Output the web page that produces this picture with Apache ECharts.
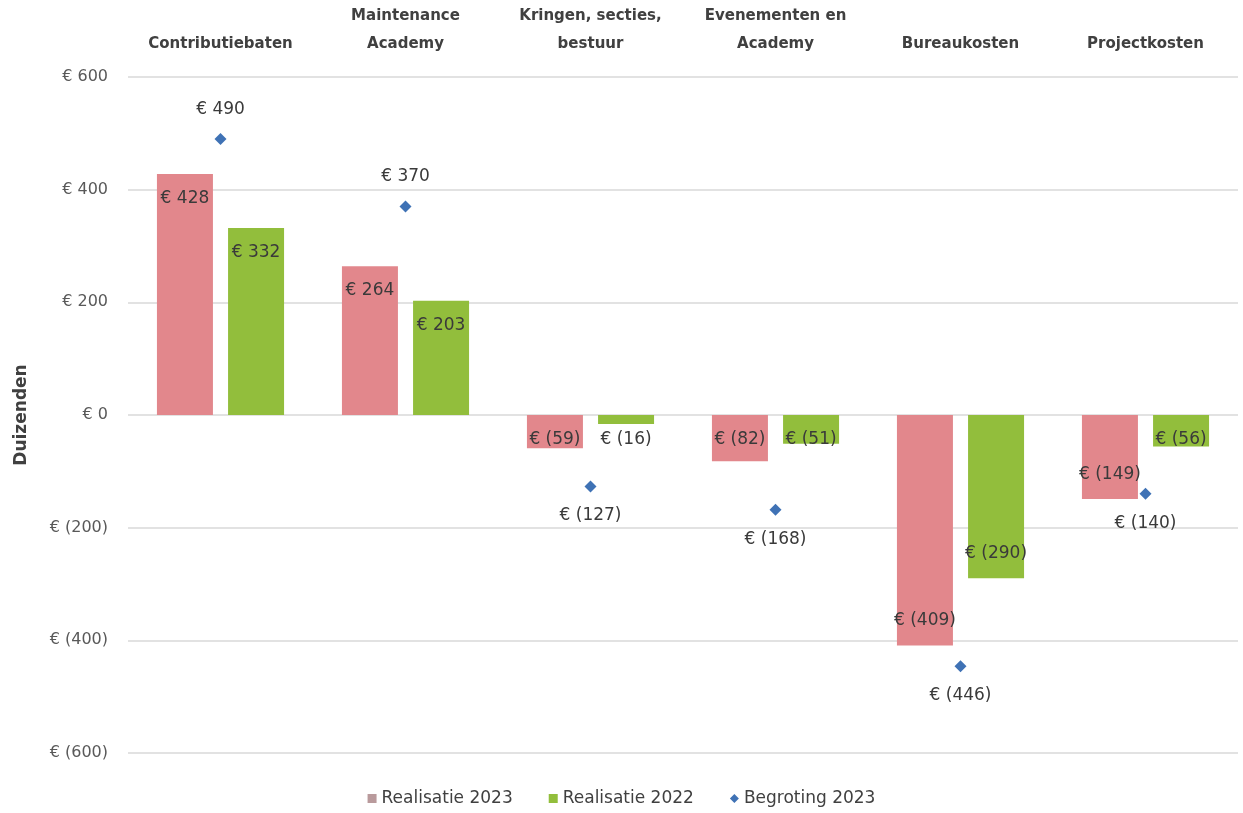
<!DOCTYPE html>
<html>
<head>
<meta charset="utf-8">
<script src="https://cdn.jsdelivr.net/npm/echarts@6/dist/echarts.min.js"></script>
<style>
  html, body { margin: 0; padding: 0; background: #fff; }
  #chart { width: 1243px; height: 813px; }
</style>
</head>
<body>
<div id="chart"></div>
<script>
// categories (shown along the top)
const categories = [
  'Contributiebaten',
  'Maintenance\nAcademy',
  'Kringen, secties,\nbestuur',
  'Evenementen en\nAcademy',
  'Bureaukosten',
  'Projectkosten'
];
const realisatie2023 = [428, 264, -59, -82, -409, -149];
const realisatie2022 = [332, 203, -16, -51, -290, -56];
const begroting2023 = [490, 370, -127, -168, -446, -140];

const euro = v => v < 0 ? '€ (' + Math.abs(v) + ')' : '€ ' + v;

const labelFont = { color: '#3a3a3a', fontSize: 17, fontFamily: 'DejaVu Sans' };

// Excel style "inside end" labels; short negative bars keep the label below the zero line
function barData(values) {
  return values.map(v => {
    let pos;
    if (v >= 0) pos = 'insideTop';
    else if (v < -95) pos = 'insideBottom';
    else pos = 'insideTop';
    return { value: v, label: { position: pos } };
  });
}

const chart = echarts.init(document.getElementById('chart'));
chart.setOption({
  backgroundColor: '#ffffff',
  animation: false,
  grid: { left: 128, right: 5, top: 77, bottom: 60 },
  legend: {
    bottom: 1,
    itemWidth: 9,
    itemHeight: 9,
    itemGap: 36,
    textStyle: { color: '#404040', fontSize: 17, fontFamily: 'DejaVu Sans' },
    data: [
      { name: 'Realisatie 2023', icon: 'rect', itemStyle: { color: '#b99a9c' } },
      { name: 'Realisatie 2022', icon: 'rect' },
      { name: 'Begroting 2023', icon: 'diamond' }
    ]
  },
  xAxis: {
    type: 'category',
    position: 'top',
    data: categories,
    axisLine: { show: false },
    axisTick: { show: false },
    axisLabel: {
      color: '#404040',
      fontSize: 15,
      fontWeight: 'bold',
      fontFamily: 'DejaVu Sans',
      lineHeight: 28,
      margin: 19,
      interval: 0
    }
  },
  yAxis: {
    type: 'value',
    min: -600,
    max: 600,
    interval: 200,
    name: 'Duizenden',
    nameLocation: 'middle',
    nameGap: 98,
    nameTextStyle: { color: '#404040', fontSize: 17, fontWeight: 'bold', fontFamily: 'DejaVu Sans' },
    axisLine: { show: false },
    axisTick: { show: false },
    splitLine: { lineStyle: { color: '#d9d9d9', width: 1.5 } },
    axisLabel: {
      color: '#595959',
      fontSize: 16,
      fontFamily: 'DejaVu Sans',
      margin: 20,
      formatter: euro
    }
  },
  series: [
    {
      name: 'Realisatie 2023',
      type: 'bar',
      data: barData(realisatie2023),
      barWidth: 56,
      barGap: '27%',
      itemStyle: { color: '#e2878c' },
      label: {
        show: true,
        distance: 16,
        formatter: p => euro(p.value),
        ...labelFont
      }
    },
    {
      name: 'Realisatie 2022',
      type: 'bar',
      data: barData(realisatie2022),
      barWidth: 56,
      barGap: '27%',
      itemStyle: { color: '#92be3c' },
      label: {
        show: true,
        distance: 16,
        formatter: p => euro(p.value),
        ...labelFont
      }
    },
    {
      name: 'Begroting 2023',
      type: 'scatter',
      symbol: 'diamond',
      symbolSize: 12,
      data: begroting2023.map(v => ({ value: v, label: { position: v >= 0 ? 'top' : 'bottom' } })),
      itemStyle: { color: '#3f72b5', opacity: 1 },
      z: 5,
      label: {
        show: true,
        distance: 15,
        formatter: p => euro(p.value),
        ...labelFont
      }
    }
  ]
});
</script>
</body>
</html>
